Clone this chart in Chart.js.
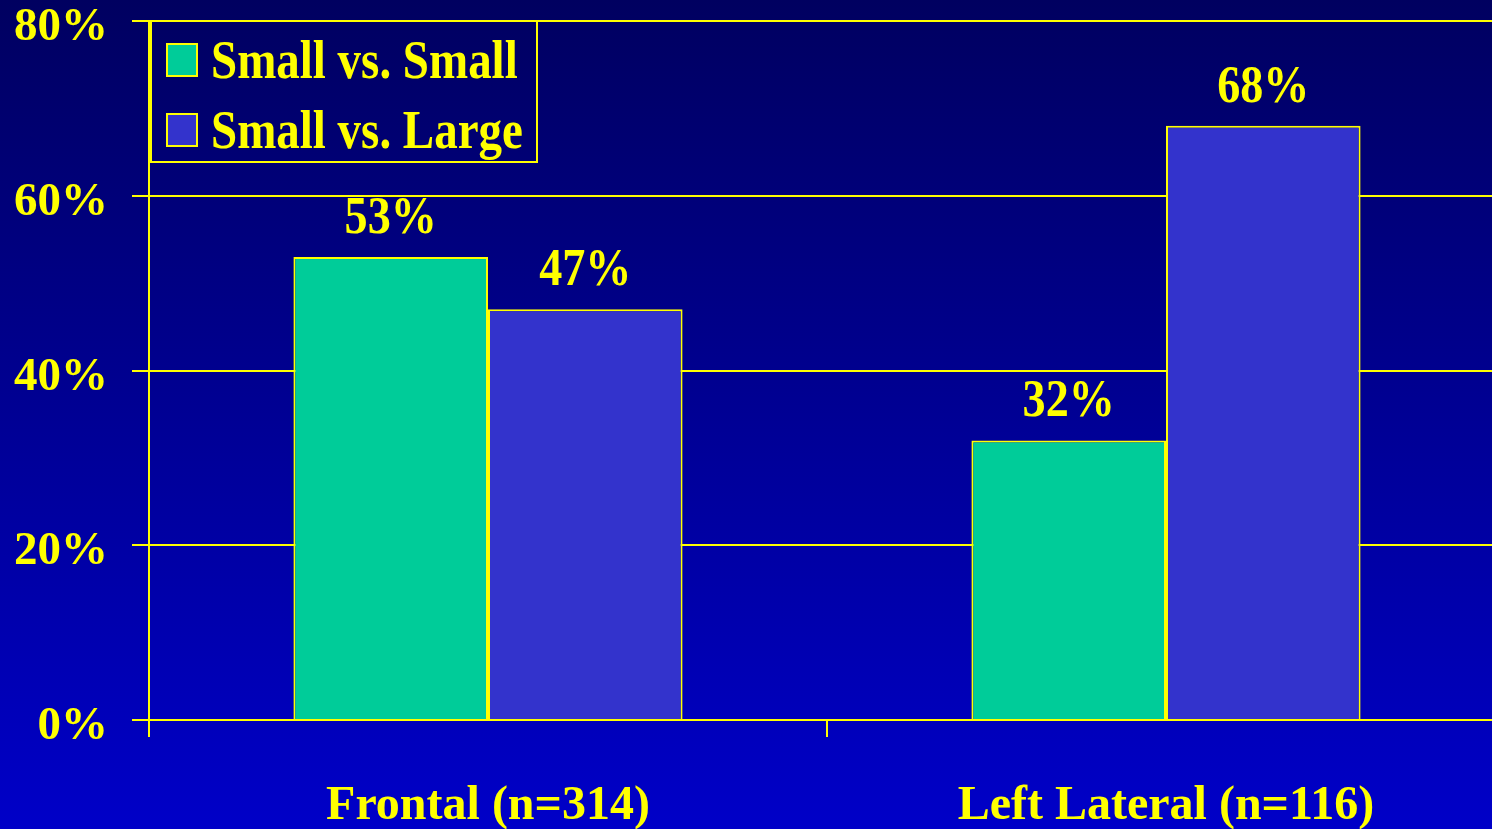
<!DOCTYPE html>
<html>
<head>
<meta charset="utf-8">
<script src="https://cdn.jsdelivr.net/npm/chart.js@4"></script>
<style>
  html, body { margin: 0; padding: 0; overflow: hidden; width: 1492px; height: 829px; }
  body { background: linear-gradient(#000060, #0000c8); }
  canvas { display: block; }
</style>
</head>
<body>
<canvas id="chart" width="1505" height="829"></canvas>
<script>
// data
const categories = ['Frontal (n=314)', 'Left Lateral (n=116)'];
const smallVsSmall = [53, 32];
const smallVsLarge = [47, 68];
const yTicks = [0, 20, 40, 60, 80];

const yellow = '#ffff00';
const serif = '"Liberation Serif", "Times New Roman", serif';

// values over the bars, a bit condensed like the slide font
const barLabels = {
    id: 'barLabels',
    afterDatasetsDraw(chart) {
        const ctx = chart.ctx;
        ctx.save();
        ctx.fillStyle = yellow;
        ctx.font = 'bold 53px ' + serif;
        ctx.textAlign = 'center';
        ctx.textBaseline = 'alphabetic';
        chart.data.datasets.forEach((ds, i) => {
            chart.getDatasetMeta(i).data.forEach((bar, j) => {
                ctx.save();
                ctx.translate(bar.x, bar.y - 24);
                ctx.scale(0.87, 1);
                ctx.fillText(ds.data[j] + '%', 0, 0);
                ctx.restore();
            });
        });
        ctx.restore();
    }
};

// boxed legend sitting in the top-left corner of the plot
const legendBox = {
    id: 'legendBox',
    afterDraw(chart) {
        const ctx = chart.ctx;
        ctx.save();
        ctx.strokeStyle = yellow;
        ctx.lineWidth = 2;
        ctx.strokeRect(151, 21, 386, 141);
        chart.data.datasets.forEach((ds, i) => {
            const y = 44 + i * 70;
            ctx.fillStyle = ds.backgroundColor;
            ctx.fillRect(167, y, 30, 32);
            ctx.strokeRect(167, y, 30, 32);
            ctx.save();
            ctx.translate(211, y + 34);
            ctx.scale(0.87, 1);
            ctx.fillStyle = yellow;
            ctx.font = 'bold 54px ' + serif;
            ctx.textBaseline = 'alphabetic';
            ctx.fillText(ds.label, 0, 0);
            ctx.restore();
        });
        ctx.restore();
    }
};

const ctx = document.getElementById('chart').getContext('2d');
const myChart = new Chart(ctx, {
    type: 'bar',
    data: {
        labels: categories,
        datasets: [{
            label: 'Small vs. Small',
            data: smallVsSmall,
            backgroundColor: '#00cc99',
            borderColor: yellow,
            borderWidth: 2
        }, {
            label: 'Small vs. Large',
            data: smallVsLarge,
            backgroundColor: '#3333cc',
            borderColor: yellow,
            borderWidth: 2
        }]
    },
    options: {
        responsive: false,
        animation: false,
        layout: { padding: { top: 21, right: 0, left: 0, bottom: 0 } },
        plugins: {
            legend: { display: false },
            tooltip: { enabled: false }
        },
        datasets: {
            bar: { categoryPercentage: 0.574, barPercentage: 1.0 }
        },
        scales: {
            x: {
                grid: {
                    display: true,
                    offset: true,
                    drawOnChartArea: false,
                    drawTicks: true,
                    tickLength: 17,
                    color: yellow,
                    lineWidth: 2
                },
                border: { display: true, color: yellow, width: 2 },
                ticks: {
                    color: yellow,
                    padding: 41,
                    font: { family: serif, weight: 'bold', size: 48 }
                },
                afterFit(scale) { scale.height = 109; }
            },
            y: {
                min: 0,
                max: 80,
                afterBuildTicks(scale) { scale.ticks = yTicks.map(v => ({ value: v })); },
                grid: {
                    color: yellow,
                    lineWidth: 2,
                    drawTicks: true,
                    tickLength: 17
                },
                border: { display: true, color: yellow, width: 2 },
                ticks: {
                    color: yellow,
                    padding: 24,
                    labelOffset: 7,
                    font: { family: serif, weight: 'bold', size: 47 },
                    callback: v => v + '%'
                },
                afterFit(scale) {
                    scale.width = 149;
                    scale.paddingTop = 0;
                    scale.paddingBottom = 0;
                }
            }
        }
    },
    plugins: [barLabels, legendBox]
});
</script>
</body>
</html>
